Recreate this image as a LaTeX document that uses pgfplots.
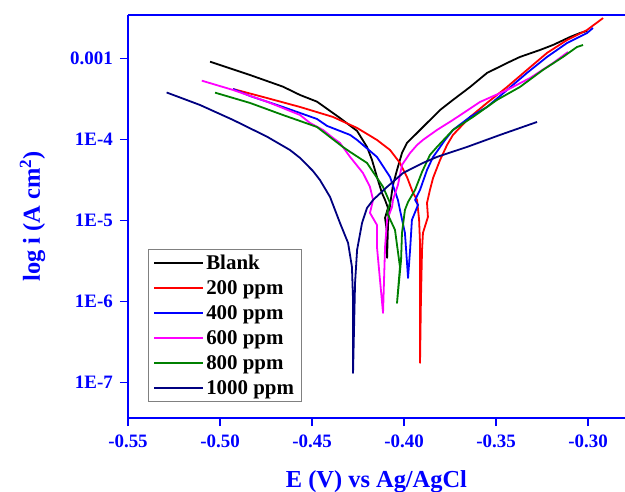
\documentclass[border=0pt]{standalone}
\usepackage{pgfplots}
\pgfplotsset{compat=1.18}
\usepackage{fontspec}
\setmainfont{Liberation Serif}
\definecolor{cblue}{RGB}{0,0,255}
\definecolor{cgreen}{RGB}{0,128,0}
\definecolor{cnavy}{RGB}{0,0,128}
\definecolor{cmag}{RGB}{255,0,255}
\definecolor{cred}{RGB}{255,0,0}
\begin{document}
\begin{tikzpicture}
\begin{axis}[
  at={(0,0)}, anchor=south west,
  scale only axis, width=497bp, height=403bp,
  xmin=-0.55, xmax=-0.2799, ymin=-7.44, ymax=-2.463,
  axis x line*=box, axis y line*=left,
  axis line style={cblue, line width=1.3bp},
  tick style={cblue, line width=1.3bp},
  tick align=outside, major tick length=8bp,
  xtick pos=bottom, ytick pos=left, minor tick num=0,
  xtick={-0.55,-0.50,-0.45,-0.40,-0.35,-0.30},
  xticklabels={-0.55,-0.50,-0.45,-0.40,-0.35,-0.30},
  ytick={-7,-6,-5,-4,-3},
  yticklabels={1E-7,1E-6,1E-5,1E-4,0.001},
  ticklabel style={font=\fontsize{19}{21}\selectfont\bfseries, text=cblue, inner sep=0pt},
  xticklabel style={anchor=base, yshift=-21bp},
  yticklabel style={anchor=east, xshift=-7bp},
  xlabel={E (V) vs Ag/AgCl},
  ylabel={log i (A cm$^{\mathbf{2}}$)},
  label style={font=\fontsize{24.5}{28}\selectfont\bfseries, text=cblue, inner sep=0pt},
  xlabel style={at={([yshift=-69bp]axis description cs:0.5,0)}, anchor=base},
  ylabel style={at={([xshift=-88bp]axis description cs:0,0.5)}, anchor=base},
  legend style={draw=gray, line width=0.6bp, at={(0.0402,0.0397)}, anchor=south west,
    font=\fontsize{21}{24}\selectfont\bfseries, row sep=5.5bp, inner xsep=5bp, inner ysep=4bp},
  legend cell align=left,
  legend image code/.code={\draw[#1, line width=2bp] (0bp,0bp) -- (49bp,0bp);},
  every axis plot/.append style={line width=1.8bp, line join=round},
]
% Blank
\addplot[black] coordinates {
(-0.5054,-3.040) (-0.4837,-3.204) (-0.4658,-3.348) (-0.4565,-3.451) (-0.4473,-3.533)
(-0.4348,-3.735) (-0.4255,-3.895) (-0.4201,-4.093) (-0.4174,-4.253) (-0.4147,-4.463)
(-0.4120,-4.660) (-0.4103,-4.747) (-0.4087,-4.846) (-0.4103,-4.969) (-0.4092,-5.154)
(-0.4092,-5.463) (-0.4087,-5.056) (-0.4076,-4.809) (-0.4060,-4.562) (-0.4038,-4.377)
(-0.4022,-4.253) (-0.4011,-4.167) (-0.3984,-4.043) (-0.3951,-3.969) (-0.3913,-3.883)
(-0.3804,-3.636) (-0.3734,-3.512) (-0.3641,-3.352) (-0.3549,-3.179) (-0.3440,-3.056)
(-0.3370,-2.981) (-0.3261,-2.895) (-0.3190,-2.833) (-0.3098,-2.735) (-0.3043,-2.685)
(-0.3005,-2.660)};
\addlegendentry{Blank}
% 200 ppm
\addplot[cred] coordinates {
(-0.4929,-3.377) (-0.4745,-3.488) (-0.4565,-3.599) (-0.4386,-3.722) (-0.4255,-3.858)
(-0.4147,-4.006) (-0.4076,-4.130) (-0.4022,-4.290) (-0.3984,-4.463) (-0.3951,-4.660)
(-0.3929,-4.747) (-0.3918,-4.994) (-0.3913,-5.278) (-0.3913,-5.981) (-0.3913,-6.759)
(-0.3908,-5.981) (-0.3902,-5.364) (-0.3897,-5.154) (-0.3870,-4.957) (-0.3875,-4.784)
(-0.3859,-4.623) (-0.3842,-4.475) (-0.3821,-4.352) (-0.3804,-4.253) (-0.3766,-4.068)
(-0.3734,-3.944) (-0.3641,-3.722) (-0.3549,-3.549) (-0.3440,-3.352) (-0.3332,-3.142)
(-0.3223,-2.932) (-0.3114,-2.772) (-0.3005,-2.648) (-0.2918,-2.500)};
\addlegendentry{200 ppm}
% 400 ppm
\addplot[cblue] coordinates {
(-0.4929,-3.377) (-0.4837,-3.463) (-0.4658,-3.599) (-0.4565,-3.673) (-0.4473,-3.747)
(-0.4418,-3.833) (-0.4293,-3.944) (-0.4255,-4.006) (-0.4147,-4.216) (-0.4076,-4.463)
(-0.4033,-4.747) (-0.4022,-4.870) (-0.3995,-5.154) (-0.3978,-5.710) (-0.3967,-5.364)
(-0.3957,-4.994) (-0.3924,-4.809) (-0.3940,-4.747) (-0.3913,-4.623) (-0.3875,-4.377)
(-0.3842,-4.216) (-0.3815,-4.130) (-0.3777,-4.006) (-0.3734,-3.883) (-0.3641,-3.722)
(-0.3549,-3.599) (-0.3440,-3.389) (-0.3332,-3.179) (-0.3223,-2.981) (-0.3114,-2.809)
(-0.3005,-2.685) (-0.2973,-2.623)};
\addlegendentry{400 ppm}
% 600 ppm
\addplot[cmag] coordinates {
(-0.5099,-3.274) (-0.4929,-3.389) (-0.4745,-3.533) (-0.4565,-3.698) (-0.4511,-3.796)
(-0.4440,-3.883) (-0.4386,-3.981) (-0.4348,-4.043) (-0.4293,-4.216) (-0.4223,-4.414)
(-0.4185,-4.586) (-0.4168,-4.747) (-0.4185,-4.907) (-0.4147,-5.056) (-0.4147,-5.327)
(-0.4114,-6.142) (-0.4103,-5.327) (-0.4092,-4.994) (-0.4065,-4.833) (-0.4060,-4.747)
(-0.4033,-4.562) (-0.4011,-4.315) (-0.3967,-4.167) (-0.3929,-4.068) (-0.3897,-4.006)
(-0.3821,-3.883) (-0.3734,-3.759) (-0.3587,-3.537) (-0.3440,-3.389) (-0.3315,-3.241)
(-0.3190,-3.056) (-0.3109,-2.920)};
\addlegendentry{600 ppm}
% 800 ppm
\addplot[cgreen] coordinates {
(-0.5027,-3.422) (-0.4837,-3.549) (-0.4658,-3.698) (-0.4565,-3.772) (-0.4473,-3.846)
(-0.4332,-4.093) (-0.4293,-4.154) (-0.4201,-4.290) (-0.4114,-4.586) (-0.4076,-4.784)
(-0.4092,-4.907) (-0.4049,-5.117) (-0.4022,-5.574) (-0.4038,-6.019) (-0.4016,-5.488)
(-0.4011,-5.154) (-0.3995,-4.870) (-0.3978,-4.772) (-0.3940,-4.623) (-0.3902,-4.401)
(-0.3859,-4.191) (-0.3821,-4.093) (-0.3734,-3.883) (-0.3625,-3.722) (-0.3495,-3.512)
(-0.3370,-3.352) (-0.3245,-3.142) (-0.3136,-2.981) (-0.3060,-2.858) (-0.3027,-2.833)};
\addlegendentry{800 ppm}
% 1000 ppm
\addplot[cnavy] coordinates {
(-0.5290,-3.420) (-0.5109,-3.574) (-0.4929,-3.759) (-0.4745,-3.965) (-0.4620,-4.130)
(-0.4565,-4.228) (-0.4495,-4.389) (-0.4457,-4.500) (-0.4402,-4.710) (-0.4348,-5.031)
(-0.4304,-5.278) (-0.4283,-5.574) (-0.4277,-5.981) (-0.4277,-6.883) (-0.4266,-5.772)
(-0.4255,-5.364) (-0.4228,-5.031) (-0.4201,-4.846) (-0.4168,-4.747) (-0.4092,-4.586)
(-0.4005,-4.414) (-0.3897,-4.290) (-0.3821,-4.216) (-0.3658,-4.093) (-0.3478,-3.944)
(-0.3277,-3.784)};
\addlegendentry{1000 ppm}
\end{axis}
\pgfresetboundingbox
\path (-128bp,-74bp) rectangle (497bp,418bp);
\end{tikzpicture}
\end{document}
